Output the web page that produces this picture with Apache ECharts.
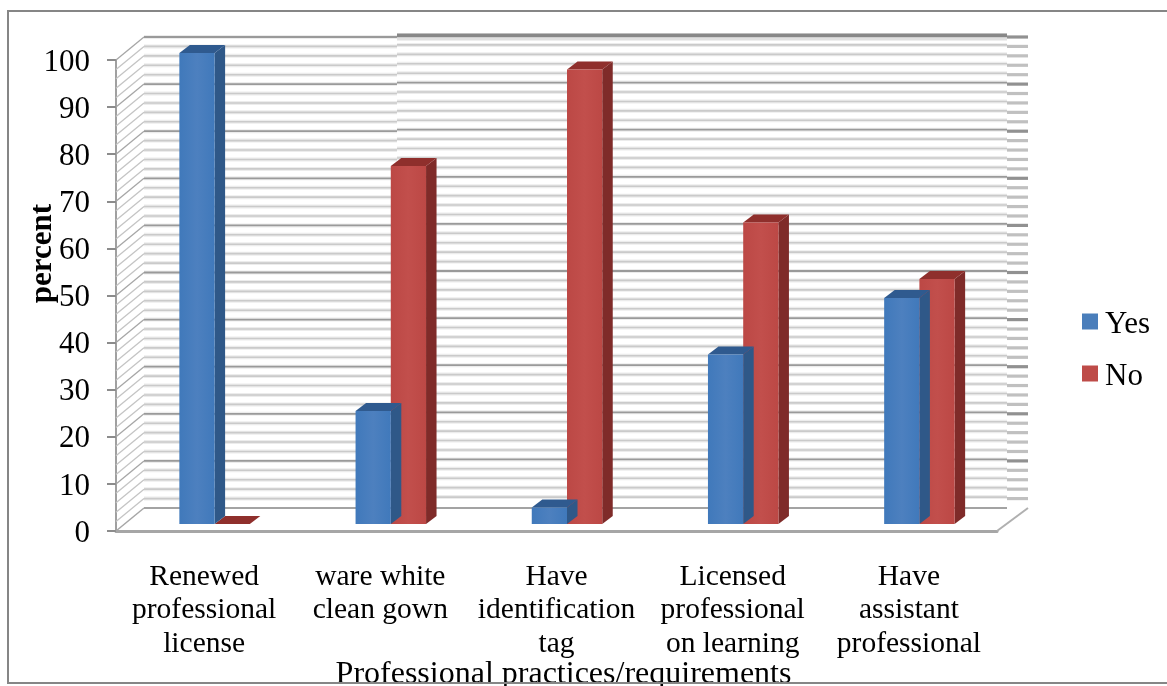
<!DOCTYPE html>
<html>
<head>
<meta charset="utf-8">
<style>html,body{margin:0;padding:0;background:#fff}#chart{width:1167px;height:686px}</style>
<script src="https://cdn.jsdelivr.net/npm/echarts@6/dist/echarts.min.js"></script>
</head>
<body>
<div id="chart"></div>
<script>
var categories = [
  'Renewed\nprofessional\nlicense',
  'ware white\nclean gown',
  'Have\nidentification\ntag',
  'Licensed\nprofessional\non learning',
  'Have\nassistant\nprofessional'
];
var yesValues = [100, 24, 3.5, 36, 48];
var noValues = [0, 76, 96.5, 64, 52];
var wallTicks = [0,2,4,6,8,10,12,14,16,18,20,22,24,26,28,30,32,34,36,38,40,42,44,46,48,50,
  52,54,56,58,60,62,64,66,68,70,72,74,76,78,80,82,84,86,88,90,92,94,96,98,100];
var yTicks = ['0','10','20','30','40','50','60','70','80','90','100'];

var serif = '"Liberation Serif","Times New Roman",serif';
var DEPTH_X = 28, DEPTH_Y = 23;        // wall depth of the 3D box
var BAR_DX = 10.5, BAR_DY = 7;         // bars stand a little behind the front plane
var BAR_SIDE_X = 10.5, BAR_SIDE_Y = 8; // bar thickness
var BAR_RATIO = 0.2;

function line(x1, y1, x2, y2, color, width) {
  return {type: 'line', shape: {x1: x1, y1: y1, x2: x2, y2: y2},
    style: {stroke: color, lineWidth: width, lineCap: 'butt'}, silent: true};
}
function poly(points, fill) {
  return {type: 'polygon', shape: {points: points}, style: {fill: fill}, silent: true};
}

// Side wall, back wall and the stub ticks past its right edge
function renderWall(params, api) {
  var rect = params.coordSys;
  var v = api.value(1);
  var y = api.coord([0, v])[1];
  var left = rect.x, backL = left + DEPTH_X, step = 397, backR = 1007, stubR = 1028;
  var major = v % 10 === 0;
  var c = major ? '#9a9a9a' : '#cacaca';
  var by = y - DEPTH_Y;
  var kids = [];
  if (v > 0) {
    kids.push(line(left, y, backL, by, major ? '#a6a6a6' : '#c4c4c4', 1.3));
    kids.push(line(backL, by, step, by, '#ececec', 4));
    kids.push(line(backL, by, step, by, c, major ? 1.8 : 1.6));
    kids.push(line(step, by - 1.5, backR, by - 1.5, '#ececec', 4));
    kids.push(line(step, by - 1.5, backR, by - 1.5, c, major ? 1.8 : 1.6));
    kids.push(line(backR, by, stubR, by, major ? '#919191' : '#c0c0c0', 3.2));
  } else {
    kids.push(line(left, y, backL, by, '#a6a6a6', 1.5));
    kids.push(line(backL, by, backR, by, '#a3a3a3', 2));
    kids.push(line(rect.x + rect.width, y, stubR, by, '#b0b0b0', 2));
  }
  if (v === 100) {
    kids.push(line(step, by - 1.5, backR, by - 1.5, '#888888', 4));
    kids.push(line(step, by + 2, backR, by + 2, '#e0e0e0', 3));
  }
  return {type: 'group', children: kids};
}

// One 3D column: front face, top face, right side face
function barRenderer(offsetSign, front, top, side) {
  return function (params, api) {
    var c = api.coord([api.value(0), api.value(1)]);
    var base = api.coord([api.value(0), 0]);
    var w = api.size([1, 0])[0] * BAR_RATIO;
    var x0 = c[0] + BAR_DX + (offsetSign < 0 ? -w : 0);
    var x1 = x0 + w;
    var yT = c[1] - BAR_DY, yB = base[1] - BAR_DY;
    var sx = BAR_SIDE_X, sy = BAR_SIDE_Y;
    return {type: 'group', children: [
      poly([[x1, yT], [x1 + sx, yT - sy], [x1 + sx, yB - sy], [x1, yB]], side),
      poly([[x0, yT], [x0 + sx, yT - sy], [x1 + sx, yT - sy], [x1, yT]], top),
      poly([[x0, yT], [x1, yT], [x1, yB], [x0, yB]], front)
    ]};
  };
}

function faceGradient(edge, mid) {
  return new echarts.graphic.LinearGradient(0, 0, 1, 0, [
    {offset: 0, color: edge}, {offset: 0.5, color: mid}, {offset: 1, color: edge}
  ]);
}

var chart = echarts.init(document.getElementById('chart'), null, {renderer: 'canvas'});
chart.setOption({
  animation: false,
  backgroundColor: '#ffffff',
  grid: {left: 116, right: 170, top: 60, bottom: 155, containLabel: false, outerBoundsMode: 'none'},
  legend: {
    orient: 'vertical', left: 1077, top: 304, itemWidth: 16, itemHeight: 16, itemGap: 21,
    data: ['Yes', 'No'], icon: 'rect', selectedMode: false,
    formatter: '{t|{name}}',
    textStyle: {
      fontFamily: serif, fontSize: 31, color: '#000',
      rich: {t: {fontFamily: serif, fontSize: 31, color: '#000', lineHeight: 37, verticalAlign: 'bottom', padding: [0, 0, 0, 2]}}
    }
  },
  xAxis: {
    type: 'category', data: categories,
    name: 'Professional practices/requirements', nameLocation: 'middle', nameGap: 128, nameMoveOverlap: false,
    nameTextStyle: {fontFamily: serif, fontSize: 32, color: '#000', padding: [0, 0, 0, 14]},
    axisLine: {lineStyle: {color: '#a6a6a6', width: 3}},
    axisTick: {show: false},
    axisLabel: {interval: 0, margin: 29, fontFamily: serif, fontSize: 29.5, lineHeight: 33.5, color: '#000'}
  },
  yAxis: {
    type: 'value', min: 0, max: 100, interval: 10,
    name: 'percent', nameLocation: 'middle', nameGap: 58, nameRotate: 90, nameMoveOverlap: false,
    nameTextStyle: {fontFamily: serif, fontSize: 31, fontWeight: 'bold', color: '#000', padding: [0, 0, 0, 84]},
    axisLine: {show: true, lineStyle: {color: '#a0a0a0', width: 2}},
    axisTick: {show: true, length: 9, lineStyle: {color: '#8c8c8c', width: 2}},
    axisLabel: {margin: 26, fontFamily: serif, fontSize: 31, color: '#000', verticalAlign: 'top', lineHeight: 5,
      formatter: function (v) { return yTicks[v / 10]; }},
    splitLine: {show: false}
  },
  graphic: [{
    type: 'polyline', silent: true, z: 100,
    shape: {points: [[1167, 11], [8, 11], [8, 683], [1167, 683]]},
    style: {fill: null, stroke: '#868686', lineWidth: 2}
  }],
  series: [
    {type: 'custom', name: 'wall', z: 1, silent: true, clip: false,
      data: wallTicks.map(function (v) { return [0, v]; }),
      encode: {x: 0, y: 1}, renderItem: renderWall},
    {type: 'custom', name: 'Yes', z: 3, silent: true, clip: false,
      itemStyle: {color: '#4a7ebb'},
      data: yesValues.map(function (v, i) { return [i, v]; }),
      encode: {x: 0, y: 1},
      renderItem: barRenderer(-1, faceGradient('#4079bb', '#4d80bf'), '#2f5a8f', '#2f5888')},
    {type: 'custom', name: 'No', z: 2, silent: true, clip: false,
      itemStyle: {color: '#be4b48'},
      data: noValues.map(function (v, i) { return [i, v]; }),
      encode: {x: 0, y: 1},
      renderItem: barRenderer(1, faceGradient('#bc4845', '#c24f4c'), '#8f2f2c', '#7f2b29')}
  ]
});
</script>
</body>
</html>
